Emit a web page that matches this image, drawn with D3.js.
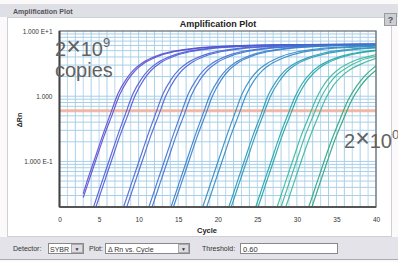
<!DOCTYPE html>
<html><head><meta charset="utf-8">
<script src="https://cdn.jsdelivr.net/npm/d3@7"></script>
<style>
html,body{margin:0;padding:0;background:#fff;}
svg{display:block;font-family:"Liberation Sans",Arial,sans-serif;}
</style></head>
<body>
<svg id="c" width="398" height="262"></svg>
<script>
// ---- data ----
const xTicks = [0,5,10,15,20,25,30,35,40];
const yTicks = [10, 1, 0.1];
const yTickLabels = ["1.000 E+1", "1.000", "1.000 E-1"];
const threshold = 0.60;
const groups = ["2x10^9","2x10^8","2x10^7","2x10^6","2x10^5","2x10^4","2x10^3","2x10^2","2x10^1","2x10^0"];
const groupColors = ["#5b4fd0","#4f5cd6","#4a66d4","#4272d0","#3a7ecb","#338ac4","#2a98b8","#22a5a8","#3cb79c","#2aa47e"];
// each curve: points [cycle, ΔRn]
const curveG1a = [[3,0.032],[3.4,0.046],[4.4,0.105],[5.4,0.24],[6.4,0.52],[7.4,1.1],[8.4,1.8],[9.4,2.55],[10.4,3.2],[12.4,4.2],[14.4,4.9],[17.4,5.5],[22.4,5.95],[30.4,6.2],[40,6.3]];
const curveG1b = [[3,0.028],[3.6,0.046],[4.6,0.105],[5.6,0.24],[6.6,0.5],[7.6,1.05],[8.6,1.75],[9.6,2.5],[10.6,3.15],[12.6,4.15],[14.6,4.85],[17.6,5.45],[22.6,5.9],[30.6,6.15],[40,6.25]];
const curveG2a = [[3.3,0.009],[4.3,0.02],[5.3,0.046],[6.3,0.105],[7.3,0.24],[8.3,0.52],[9.3,1.1],[10.3,1.8],[11.3,2.55],[12.3,3.2],[14.3,4.2],[16.3,4.9],[19.3,5.5],[24.3,5.95],[32.3,6.2],[40,6.3]];
const curveG2b = [[3.6,0.009],[4.6,0.02],[5.6,0.046],[6.6,0.105],[7.6,0.24],[8.6,0.5],[9.6,1.05],[10.6,1.75],[11.6,2.5],[12.6,3.15],[14.6,4.15],[16.6,4.85],[19.6,5.45],[24.6,5.9],[32.6,6.15],[40,6.25]];
const curveG3a = [[7.1,0.009],[8.1,0.02],[9.1,0.046],[10.1,0.105],[11.1,0.24],[12.1,0.52],[13.1,1.1],[14.1,1.8],[15.1,2.55],[16.1,3.2],[18.1,4.2],[20.1,4.9],[23.1,5.5],[28.1,5.95],[36.1,6.2],[40,6.25]];
const curveG3b = [[7.5,0.009],[8.5,0.02],[9.5,0.046],[10.5,0.105],[11.5,0.24],[12.5,0.5],[13.5,1.05],[14.5,1.75],[15.5,2.5],[16.5,3.15],[18.5,4.15],[20.5,4.85],[23.5,5.45],[28.5,5.9],[36.5,6.15],[40,6.2]];
const curveG4a = [[10.3,0.009],[11.3,0.02],[12.3,0.046],[13.3,0.105],[14.3,0.24],[15.3,0.52],[16.3,1.1],[17.3,1.8],[18.3,2.55],[19.3,3.2],[21.3,4.2],[23.3,4.9],[26.3,5.5],[31.3,5.95],[40,6.2]];
const curveG4b = [[10.7,0.009],[11.7,0.02],[12.7,0.046],[13.7,0.105],[14.7,0.24],[15.7,0.5],[16.7,1.05],[17.7,1.75],[18.7,2.5],[19.7,3.15],[21.7,4.15],[23.7,4.85],[26.7,5.45],[31.7,5.9],[40,6.15]];
const curveG5a = [[13.1,0.009],[14.1,0.02],[15.1,0.046],[16.1,0.105],[17.1,0.24],[18.1,0.52],[19.1,1.1],[20.1,1.8],[21.1,2.55],[22.1,3.2],[24.1,4.2],[26.1,4.9],[29.1,5.5],[34.1,5.95],[40,6.15]];
const curveG5b = [[13.4,0.009],[14.4,0.02],[15.4,0.046],[16.4,0.105],[17.4,0.24],[18.4,0.5],[19.4,1.05],[20.4,1.75],[21.4,2.5],[22.4,3.15],[24.4,4.15],[26.4,4.85],[29.4,5.45],[34.4,5.9],[40,6.1]];
const curveG6a = [[17.1,0.009],[18.1,0.02],[19.1,0.046],[20.1,0.105],[21.1,0.24],[22.1,0.52],[23.1,1.1],[24.1,1.8],[25.1,2.5],[26.1,3.1],[28.1,4.1],[30.1,4.8],[33.1,5.4],[38.1,5.85],[40,5.95]];
const curveG6b = [[17.6,0.009],[18.6,0.02],[19.6,0.046],[20.6,0.105],[21.6,0.24],[22.6,0.5],[23.6,1.05],[24.6,1.75],[25.6,2.45],[26.6,3.05],[28.6,4.0],[30.6,4.7],[33.6,5.3],[38.6,5.75],[40,5.85]];
const curveG7a = [[20.4,0.009],[21.4,0.02],[22.4,0.046],[23.4,0.105],[24.4,0.24],[25.4,0.5],[26.4,1.05],[27.4,1.7],[28.4,2.4],[29.4,3.0],[31.4,3.9],[33.4,4.6],[36.4,5.2],[40,5.6]];
const curveG7b = [[20.7,0.009],[21.7,0.02],[22.7,0.046],[23.7,0.105],[24.7,0.24],[25.7,0.5],[26.7,1.02],[27.7,1.65],[28.7,2.35],[29.7,2.95],[31.7,3.85],[33.7,4.5],[36.7,5.1],[40,5.5]];
const curveG8a = [[23.8,0.009],[24.8,0.02],[25.8,0.046],[26.8,0.105],[27.8,0.24],[28.8,0.5],[29.8,1.0],[30.8,1.65],[31.8,2.3],[32.8,2.9],[34.8,3.8],[36.8,4.45],[40,5.1]];
const curveG8b = [[24.1,0.009],[25.1,0.02],[26.1,0.046],[27.1,0.105],[28.1,0.24],[29.1,0.49],[30.1,0.98],[31.1,1.6],[32.1,2.25],[33.1,2.85],[35.1,3.75],[37.1,4.4],[40,5.0]];
const curveG9a = [[26.5,0.009],[27.5,0.02],[28.5,0.046],[29.5,0.105],[30.5,0.24],[31.5,0.48],[32.5,0.95],[33.5,1.55],[34.5,2.15],[35.5,2.7],[37.5,3.6],[39.5,4.2],[40,4.35]];
const curveG9b = [[27.0,0.009],[28.0,0.02],[29.0,0.046],[30.0,0.105],[31.0,0.24],[32.0,0.48],[33.0,0.93],[34.0,1.5],[35.0,2.1],[36.0,2.6],[38.0,3.5],[40,4.1]];
const curveG9c = [[27.6,0.009],[28.6,0.02],[29.6,0.046],[30.6,0.105],[31.6,0.23],[32.6,0.46],[33.6,0.9],[34.6,1.45],[35.6,2.0],[36.6,2.5],[38.6,3.3],[40,3.8]];
const curveG10a = [[30.5,0.009],[31.5,0.02],[32.5,0.046],[33.5,0.105],[34.5,0.23],[35.5,0.46],[36.5,0.88],[37.5,1.4],[38.5,2.0],[39.5,2.6],[40,2.9]];
const curveG10b = [[30.9,0.009],[31.9,0.02],[32.9,0.046],[33.9,0.105],[34.9,0.23],[35.9,0.45],[36.9,0.85],[37.9,1.35],[38.9,1.9],[40,2.5]];
const curves = [
  [0,curveG1a],[0,curveG1b],[1,curveG2a],[1,curveG2b],[2,curveG3a],[2,curveG3b],
  [3,curveG4a],[3,curveG4b],[4,curveG5a],[4,curveG5b],[5,curveG6a],[5,curveG6b],
  [6,curveG7a],[6,curveG7b],[7,curveG8a],[7,curveG8b],[8,curveG9a],[8,curveG9b],[8,curveG9c],
  [9,curveG10a],[9,curveG10b]
];

// ---- drawing ----
const svg = d3.select("#c");
const L = 59.5, R = 376, T = 31, B = 207;
const x = d3.scaleLinear().domain([0,40]).range([L,R]);
const y = d3.scaleLog().domain([0.02,10]).range([B,T]);

// window chrome
svg.append("rect").attr("x",0).attr("y",0).attr("width",398).attr("height",262).attr("fill","#fbf9fa");
svg.append("rect").attr("x",0).attr("y",4).attr("width",398).attr("height",13).attr("fill","#dfdfe6");
svg.append("text").attr("x",13).attr("y",13.5).attr("font-size",7).attr("fill","#555").attr("font-weight","bold").text("Amplification Plot");
svg.append("rect").attr("x",7.5).attr("y",17.5).attr("width",384).attr("height",219).attr("fill","#fff").attr("stroke","#cfcfd6");
svg.append("rect").attr("x",384.5).attr("y",13.5).attr("width",12).attr("height",12).attr("fill","#cdcdd4").attr("stroke","#9a9aa2");
svg.append("text").attr("x",390.5).attr("y",23).attr("text-anchor","middle").attr("font-size",9).attr("font-weight","bold").attr("fill","#555").text("?");

// grid
const grid = svg.append("g");
d3.range(0,41).forEach(c => {
  grid.append("line").attr("x1",x(c)).attr("x2",x(c)).attr("y1",T).attr("y2",B)
    .attr("stroke", c%2 ? "#b9d8ec" : "#a8cfe8").attr("stroke-width",1);
});
const minor = [];
[0.01,0.1,1].forEach(dec => { for(let k=1;k<=9;k++){ const v=dec*k; if(v>=0.02 && v<=10) minor.push(v);} });
minor.forEach(v => {
  grid.append("line").attr("x1",L).attr("x2",R).attr("y1",y(v)).attr("y2",y(v))
    .attr("stroke","#a8cfe8").attr("stroke-width",1);
});
// threshold
svg.append("line").attr("x1",L).attr("x2",R).attr("y1",y(threshold)).attr("y2",y(threshold))
  .attr("stroke","#f6b09a").attr("stroke-width",3).attr("opacity",0.85);

// curves
svg.append("clipPath").attr("id","clip").append("rect").attr("x",L).attr("y",T).attr("width",R-L).attr("height",B-T);
const line = d3.line().x(d=>x(d[0])).y(d=>y(d[1])).curve(d3.curveMonotoneX);
const cg = svg.append("g").attr("clip-path","url(#clip)");
curves.forEach(([g,pts]) => {
  cg.append("path").attr("d",line(pts)).attr("fill","none")
    .attr("stroke",groupColors[g]).attr("stroke-width",1.2).attr("opacity",0.9);
});

// frame
svg.append("rect").attr("x",L).attr("y",T).attr("width",R-L).attr("height",B-T)
  .attr("fill","none").attr("stroke","#6d7478").attr("stroke-width",1.3);
svg.append("line").attr("x1",L).attr("x2",L).attr("y1",T).attr("y2",B).attr("stroke","#444").attr("stroke-width",2);
svg.append("line").attr("x1",L).attr("x2",R).attr("y1",B).attr("y2",B).attr("stroke","#555").attr("stroke-width",2);

// axes
const xa = svg.append("g").attr("transform",`translate(0,${B})`)
  .call(d3.axisBottom(x).tickValues(xTicks).tickSize(0).tickPadding(10).tickFormat(d3.format("d")));
const ya = svg.append("g").attr("transform",`translate(${L},0)`)
  .call(d3.axisLeft(y).tickValues(yTicks).tickSize(0).tickPadding(7).tickFormat((d,i)=>yTickLabels[i]));
[xa,ya].forEach(a => { a.select(".domain").remove(); a.selectAll("text").attr("font-size",6.5).attr("fill","#333").attr("font-family","Liberation Sans, Arial, sans-serif"); });

svg.append("text").attr("x",218).attr("y",27).attr("text-anchor","middle").attr("font-size",9).attr("font-weight","bold").attr("fill","#222").text("Amplification Plot");
svg.append("text").attr("x",207).attr("y",233).attr("text-anchor","middle").attr("font-size",7.5).attr("font-weight","bold").attr("fill","#222").text("Cycle");
svg.append("text").attr("transform","translate(22,120) rotate(-90)").attr("text-anchor","middle").attr("font-size",7).attr("font-weight","bold").attr("fill","#222").text("ΔRn");

// annotations
const big = svg.append("g").attr("fill","#626262").attr("font-family","Liberation Sans, Arial, sans-serif");
const t1 = big.append("text").attr("x",55).attr("y",56).attr("font-size",20);
t1.append("tspan").text("2");
t1.append("tspan").attr("font-size",25).attr("dy",-1).text("×");
t1.append("tspan").attr("dy",1).text("10");
t1.append("tspan").attr("font-size",13).attr("dy",-9).text("9");
big.append("text").attr("x",55).attr("y",77).attr("font-size",20).text("copies");
const t2 = big.append("text").attr("x",344).attr("y",148).attr("font-size",20);
t2.append("tspan").text("2");
t2.append("tspan").attr("font-size",25).attr("dy",-1).text("×");
t2.append("tspan").attr("dy",1).text("10");
t2.append("tspan").attr("font-size",13).attr("dy",-9).text("0");

// bottom control bar
svg.append("rect").attr("x",0).attr("y",237).attr("width",398).attr("height",22).attr("fill","#e3e3e9");
svg.append("line").attr("x1",0).attr("x2",398).attr("y1",259.5).attr("y2",259.5).attr("stroke","#a9a9b2");
const ctl = svg.append("g").attr("font-size",7).attr("fill","#333");
ctl.append("text").attr("x",13).attr("y",250.5).text("Detector:");
ctl.append("rect").attr("x",48.5).attr("y",243.5).attr("width",35).attr("height",10).attr("fill","#fff").attr("stroke","#888");
ctl.append("text").attr("x",50).attr("y",251.5).text("SYBR");
ctl.append("rect").attr("x",71.5).attr("y",244.5).attr("width",11).attr("height",8).attr("fill","#dcdce2").attr("stroke","#aaa");
ctl.append("text").attr("x",77).attr("y",251).attr("text-anchor","middle").attr("font-size",5).text("▼");
ctl.append("text").attr("x",89).attr("y",250.5).text("Plot:");
ctl.append("rect").attr("x",105.5).attr("y",243.5).attr("width",84).attr("height",10).attr("fill","#fff").attr("stroke","#888");
ctl.append("text").attr("x",108).attr("y",251.5).text("Δ Rn vs. Cycle");
ctl.append("rect").attr("x",178.5).attr("y",244.5).attr("width",10).attr("height",8).attr("fill","#dcdce2").attr("stroke","#aaa");
ctl.append("text").attr("x",183.5).attr("y",251).attr("text-anchor","middle").attr("font-size",5).text("▼");
ctl.append("text").attr("x",202).attr("y",250.5).text("Threshold:");
ctl.append("rect").attr("x",240.5).attr("y",243.5).attr("width",97).attr("height",10).attr("fill","#fff").attr("stroke","#888");
ctl.append("text").attr("x",243).attr("y",251.5).attr("font-size",7.5).text(threshold.toFixed(2));
</script>
</body></html>
